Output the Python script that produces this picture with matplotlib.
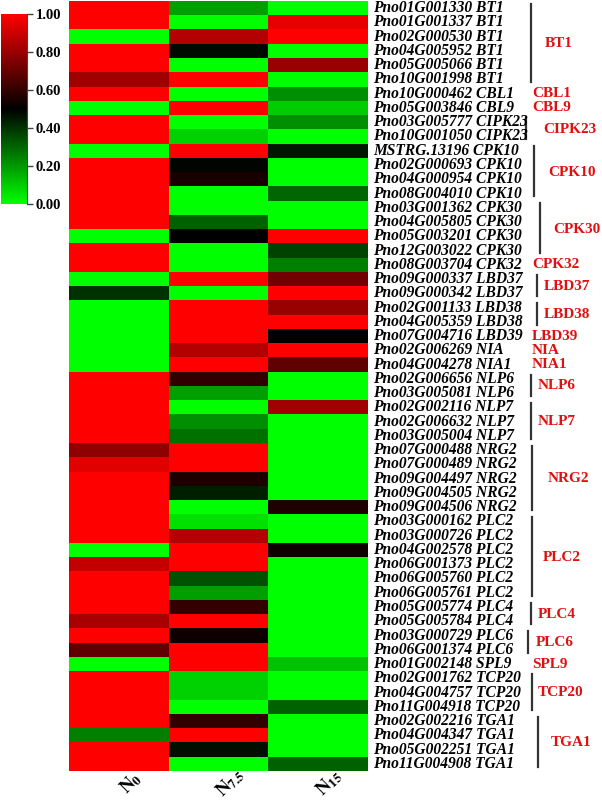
import matplotlib
matplotlib.use("Agg")
import matplotlib.pyplot as plt
import numpy as np
from matplotlib.colors import LinearSegmentedColormap
from matplotlib.transforms import blended_transform_factory

genes = ["Pno01G001330", "Pno01G001337", "Pno02G000530", "Pno04G005952", "Pno05G005066",
         "Pno10G001998", "Pno10G000462", "Pno05G003846", "Pno03G005777", "Pno10G001050",
         "MSTRG.13196", "Pno02G000693", "Pno04G000954", "Pno08G004010", "Pno03G001362",
         "Pno04G005805", "Pno05G003201", "Pno12G003022", "Pno08G003704", "Pno09G000337",
         "Pno09G000342", "Pno02G001133", "Pno04G005359", "Pno07G004716", "Pno02G006269",
         "Pno04G004278", "Pno02G006656", "Pno03G005081", "Pno02G002116", "Pno02G006632",
         "Pno03G005004", "Pno07G000488", "Pno07G000489", "Pno09G004497", "Pno09G004505",
         "Pno09G004506", "Pno03G000162", "Pno03G000726", "Pno04G002578", "Pno06G001373",
         "Pno06G005760", "Pno06G005761", "Pno05G005774", "Pno05G005784", "Pno03G000729",
         "Pno06G001374", "Pno01G002148", "Pno02G001762", "Pno04G004757", "Pno11G004918",
         "Pno02G002216", "Pno04G004347", "Pno05G002251", "Pno11G004908"]
families = ["BT1"] * 6 + ["CBL1", "CBL9"] + ["CIPK23"] * 2 + ["CPK10"] * 4 + ["CPK30"] * 4 + \
           ["CPK32"] + ["LBD37"] * 2 + ["LBD38"] * 2 + ["LBD39", "NIA", "NIA1"] + ["NLP6"] * 2 + \
           ["NLP7"] * 3 + ["NRG2"] * 5 + ["PLC2"] * 6 + ["PLC4"] * 2 + ["PLC6"] * 2 + ["SPL9"] + \
           ["TCP20"] * 3 + ["TGA1"] * 4

n0 = [1, 1, 0, 1, 1, 0.81, 1, 0, 1, 1,
      0, 1, 1, 1, 1, 1, 0, 1, 1, 0,
      0.4, 0, 0, 0, 0, 0, 1, 1, 1, 1,
      1, 0.78, 0.94, 1, 1, 1, 1, 1, 0, 0.88,
      1, 1, 1, 0.83, 1, 0.69, 0, 1, 1, 1,
      1, 0.25, 1, 1]
n75 = [0.19, 0, 0.85, 0.48, 0, 1, 0, 1, 0, 0.09,
       1, 0.49, 0.55, 0, 0, 0.31, 0.5, 0, 0, 1,
       0, 1, 1, 1, 0.85, 1, 0.6, 0.19, 0, 0.22,
       0.28, 1, 1, 0.56, 0.44, 0, 0.06, 0.85, 1, 1,
       0.34, 0.19, 0.6, 1, 0.53, 1, 1, 0.09, 0.09, 0,
       0.6, 1, 0.47, 0]
n15 = [0, 0.95, 1, 0, 0.8, 0, 0.22, 0.1, 0.22, 0,
       0.45, 0, 0, 0.3, 0, 0, 1, 0.37, 0.25, 0.72,
       1, 0.8, 1, 0.5, 1, 0.69, 0, 0, 0.81, 0,
       0, 0, 0, 0, 0, 0.56, 0, 0, 0.53, 0,
       0, 0, 0, 0, 0, 0, 0.12, 0, 0, 0.31,
       0, 0, 0, 0.31]
conditions = [r"$\mathbf{N}_{\mathbf{0}}$", r"$\mathbf{N}_{\mathbf{7.5}}$", r"$\mathbf{N}_{\mathbf{15}}$"]
cbar_ticks = [0.0, 0.2, 0.4, 0.6, 0.8, 1.0]

# layout (pixel positions of bracket line and group label)
bracket_layout = {"BT1": (531, 545), "CIPK23": (526, 543), "CPK10": (534, 548),
                  "CPK30": (540, 553), "LBD37": (537, 544), "LBD38": (537, 544),
                  "NLP6": (531, 538), "NLP7": (531, 538), "NRG2": (532, 548),
                  "PLC2": (532, 543), "PLC4": (531, 538), "PLC6": (528, 536),
                  "TCP20": (532, 538), "TGA1": (538, 551)}

plt.rcParams["mathtext.fontset"] = "stix"
W, H = 602, 808
fig = plt.figure(figsize=(W / 100, H / 100), dpi=100)

cmap = LinearSegmentedColormap.from_list("gkr", ["#00FF00", "#000000", "#FF0000"])
data = np.column_stack([n0, n75, n15])
nrows = len(genes)

ax = fig.add_axes([69 / W, 1 - 771 / H, 298 / W, 770 / H])
im = ax.imshow(data, cmap=cmap, vmin=0, vmax=1, aspect="auto", interpolation="nearest",
               extent=(-0.5, 2.5, nrows, 0))
ax.set_xlim(-0.5, 2.5)
ax.set_ylim(nrows, 0)
for s in ax.spines.values():
    s.set_visible(False)
ax.set_yticks([])
ax.set_xticks([])

# rotated column labels
for k, lab in enumerate(conditions):
    ax.text(k + 0.12, -(783 - 771) / 770, lab, transform=blended_transform_factory(ax.transData, ax.transAxes),
            rotation=45, rotation_mode="anchor", ha="center", va="center", fontsize=13.5)

tr = blended_transform_factory(fig.transFigure, ax.transData)
lab_font = dict(family="Liberation Serif", weight="bold")
for i, (g, f) in enumerate(zip(genes, families)):
    fig.text(373 / W, i + 0.5, f"{g} {f}", transform=tr, fontsize=11.2, style="italic",
             ha="left", va="center", **lab_font)

# group brackets
i = 0
while i < nrows:
    j = i
    while j + 1 < nrows and families[j + 1] == families[i]:
        j += 1
    fam = families[i]
    yc = (i + j + 1) / 2
    if fam in bracket_layout:
        lx, tx = bracket_layout[fam]
        fig.add_artist(plt.Line2D([lx / W, lx / W], [i + 0.2, j + 1 - 0.3], transform=tr,
                                  color="#333333", lw=1.6))
    else:
        tx = 532
    fig.text(tx / W, yc, fam, transform=tr, fontsize=11, color="#E01010",
             ha="left", va="center", **lab_font)
    i = j + 1

# colorbar
cax = fig.add_axes([1 / W, 1 - 204 / H, 26 / W, 190 / H])
cb = fig.colorbar(im, cax=cax, ticks=cbar_ticks)
cb.outline.set_visible(False)
cax.spines["right"].set_visible(True)
cax.spines["right"].set_color("#444444")
cax.tick_params(length=4, width=1, colors="#444444", pad=2)
cax.set_yticklabels([f"{t:.2f}" for t in cbar_ticks])
for t in cax.get_yticklabels():
    t.set_fontfamily("Liberation Serif")
    t.set_fontweight("bold")
    t.set_fontsize(10.5)
    t.set_color("black")

fig.savefig("out.png", dpi=100)
